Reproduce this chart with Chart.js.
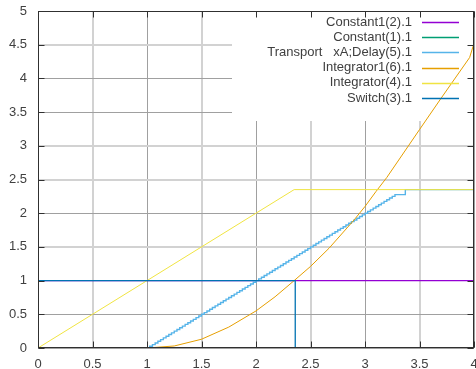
<!DOCTYPE html>
<html>
<head>
<meta charset="utf-8">
<script src="https://cdn.jsdelivr.net/npm/chart.js@4/dist/chart.umd.min.js"></script>
<style>
  body { margin: 0; background: #fff; }
  #wrap { width: 476px; height: 369px; }
</style>
</head>
<body>
<div id="wrap"><canvas id="plot" width="476" height="369"></canvas></div>
<script>
// series labels, in the order gnuplot drew them (later ones on top)
const labels = ['Constant1(2).1', 'Constant(1).1', 'Transport   xA;Delay(5).1',
                'Integrator1(6).1', 'Integrator(4).1', 'Switch(3).1'];
const colors = ['#9400d3', '#009e73', '#56b4e9', '#e69f00', '#f0e442', '#0072b2'];
const widths = [1.2, 1.2, 1.4, 1, 1, 1.3];

// Constant1(2)
const tConst1 = [0, 4];
const yConst1 = [1, 1];
// Constant(1)
const tConst = [0, 4];
const yConst = [0, 0];
// Transport Delay(5), sampled and held
const tDelay = [0, 1,
  1.025, 1.05, 1.075, 1.1, 1.125, 1.15, 1.175, 1.2, 1.225, 1.25,
  1.275, 1.3, 1.325, 1.35, 1.375, 1.4, 1.425, 1.45, 1.475, 1.5,
  1.525, 1.55, 1.575, 1.6, 1.625, 1.65, 1.675, 1.7, 1.725, 1.75,
  1.775, 1.8, 1.825, 1.85, 1.875, 1.9, 1.925, 1.95, 1.975, 2,
  2.025, 2.05, 2.075, 2.1, 2.125, 2.15, 2.175, 2.2, 2.225, 2.25,
  2.275, 2.3, 2.325, 2.35, 2.375, 2.4, 2.425, 2.45, 2.475, 2.5,
  2.525, 2.55, 2.575, 2.6, 2.625, 2.65, 2.675, 2.7, 2.725, 2.75,
  2.775, 2.8, 2.825, 2.85, 2.875, 2.9, 2.925, 2.95, 2.975, 3,
  3.025, 3.05, 3.075, 3.1, 3.125, 3.15, 3.175, 3.2, 3.225, 3.25,
  3.275, 3.37, 4];
const yDelay = [0, 0,
  0.025, 0.05, 0.075, 0.1, 0.125, 0.15, 0.175, 0.2, 0.225, 0.25,
  0.275, 0.3, 0.325, 0.35, 0.375, 0.4, 0.425, 0.45, 0.475, 0.5,
  0.525, 0.55, 0.575, 0.6, 0.625, 0.65, 0.675, 0.7, 0.725, 0.75,
  0.775, 0.8, 0.825, 0.85, 0.875, 0.9, 0.925, 0.95, 0.975, 1,
  1.025, 1.05, 1.075, 1.1, 1.125, 1.15, 1.175, 1.2, 1.225, 1.25,
  1.275, 1.3, 1.325, 1.35, 1.375, 1.4, 1.425, 1.45, 1.475, 1.5,
  1.525, 1.55, 1.575, 1.6, 1.625, 1.65, 1.675, 1.7, 1.725, 1.75,
  1.775, 1.8, 1.825, 1.85, 1.875, 1.9, 1.925, 1.95, 1.975, 2,
  2.025, 2.05, 2.075, 2.1, 2.125, 2.15, 2.175, 2.2, 2.225, 2.25,
  2.275, 2.35, 2.35];
// Integrator1(6)
const tInt1 = [0, 1, 1.25, 1.5, 1.75, 2, 2.175, 2.35, 2.5, 2.67, 2.9, 3, 3.1, 3.2, 3.5, 3.7, 3.96, 4];
const yInt1 = [0, 0, 0.03, 0.13, 0.31, 0.55, 0.76, 1.0, 1.21, 1.48, 1.9, 2.1, 2.32, 2.53, 3.24, 3.71, 4.31, 4.52];
// Integrator(4)
const tInt = [0, 2.35, 4];
const yInt = [0, 2.35, 2.35];
// Switch(3)
const tSwitch = [0, 2.36, 2.36, 4];
const ySwitch = [1, 1, 0, 0];

const xs = [tConst1, tConst, tDelay, tInt1, tInt, tSwitch];
const ys = [yConst1, yConst, yDelay, yInt1, yInt, ySwitch];

const textColor = '#404040';
const fontFamily = '"Liberation Sans", Arial, sans-serif';

// half-unit grid lines that gnuplot rendered blurred (lighter, wider)
const lightX = [0.5, 1.5, 2.5, 3.5];
const lightY = [1.5, 2.5, 3, 4.5];

const datasets = labels.map((label, i) => ({
    label: label,
    data: xs[i].map((t, k) => ({ x: t, y: ys[i][k] })),
    borderColor: colors[i],
    backgroundColor: colors[i],
    borderWidth: widths[i],
    pointRadius: 0,
    fill: false,
    tension: 0,
    stepped: i === 2 ? 'before' : false,
    order: labels.length - i,  // later series drawn on top, like gnuplot
}));

// frame, inward ticks and the key, drawn gnuplot style
const gnuplotFrame = {
    id: 'gnuplotFrame',
    beforeDatasetsDraw(chart) {
        const { ctx, chartArea: a } = chart;
        ctx.save();
        ctx.fillStyle = '#ffffff';
        ctx.fillRect(a.right - 242, a.top + 1, 241, 109);  // opaque key box
        ctx.restore();
    },
    afterDatasetsDraw(chart) {
        const { ctx, chartArea: a, scales } = chart;
        const L = Math.round(a.left) + 0.5, R = Math.round(a.right) - 0.5;
        const T = Math.round(a.top) + 0.5, B = Math.round(a.bottom) - 0.5;
        ctx.save();
        ctx.strokeStyle = '#303030';
        ctx.lineWidth = 1;
        ctx.strokeRect(L, T, R - L, B - T);

        ctx.beginPath();
        scales.x.ticks.forEach(t => {
            const px = Math.round(scales.x.getPixelForValue(t.value)) + 0.5;
            ctx.moveTo(px, B); ctx.lineTo(px, B - 6);
            ctx.moveTo(px, T); ctx.lineTo(px, T + 6);
        });
        scales.y.ticks.forEach(t => {
            const py = Math.round(scales.y.getPixelForValue(t.value)) + 0.5;
            ctx.moveTo(L, py); ctx.lineTo(L + 6, py);
            ctx.moveTo(R, py); ctx.lineTo(R - 6, py);
        });
        ctx.stroke();

        // key
        ctx.font = '13px ' + fontFamily;
        ctx.textAlign = 'right';
        ctx.textBaseline = 'middle';
        chart.data.datasets.forEach((ds, i) => {
            const cy = a.top + 11 + i * 15.2;
            ctx.fillStyle = textColor;
            ctx.fillText(ds.label, a.right - 62, cy);
            ctx.strokeStyle = ds.borderColor;
            ctx.lineWidth = 1.5;
            ctx.beginPath();
            ctx.moveTo(a.right - 52, Math.round(cy) + 0.5);
            ctx.lineTo(a.right - 15, Math.round(cy) + 0.5);
            ctx.stroke();
        });
        ctx.restore();
    }
};

const tickText = v => String(Math.round(v * 10) / 10);

const ctx = document.getElementById('plot').getContext('2d');
const chart = new Chart(ctx, {
    type: 'line',
    data: { datasets: datasets },
    options: {
        responsive: false,
        animation: false,
        layout: { padding: { top: 11, right: 2, left: 0, bottom: 0 } },
        plugins: {
            legend: { display: false },
            tooltip: { enabled: false },
        },
        scales: {
            x: {
                type: 'linear',
                min: 0,
                max: 4,
                border: { display: false },
                grid: {
                    drawTicks: false,
                    color: c => lightX.includes(c.tick.value) ? '#d2d2d2' : '#a0a0a0',
                    lineWidth: c => lightX.includes(c.tick.value) ? 2 : 1,
                },
                ticks: {
                    stepSize: 0.5,
                    padding: 9,
                    color: textColor,
                    maxRotation: 0,
                    autoSkip: false,
                    callback: tickText,
                    font: { family: fontFamily, size: 13 },
                },
                afterFit: s => { s.height = 21; s.paddingLeft = 0; s.paddingRight = 0; },
            },
            y: {
                min: 0,
                max: 5,
                border: { display: false },
                grid: {
                    drawTicks: false,
                    color: c => lightY.includes(c.tick.value) ? '#d2d2d2' : '#a0a0a0',
                    lineWidth: c => lightY.includes(c.tick.value) ? 2 : 1,
                },
                ticks: {
                    stepSize: 0.5,
                    padding: 11,
                    color: textColor,
                    autoSkip: false,
                    callback: tickText,
                    font: { family: fontFamily, size: 13 },
                },
                afterFit: s => { s.width = 38; s.paddingTop = 0; s.paddingBottom = 0; },
            }
        }
    },
    plugins: [gnuplotFrame]
});
</script>
</body>
</html>
